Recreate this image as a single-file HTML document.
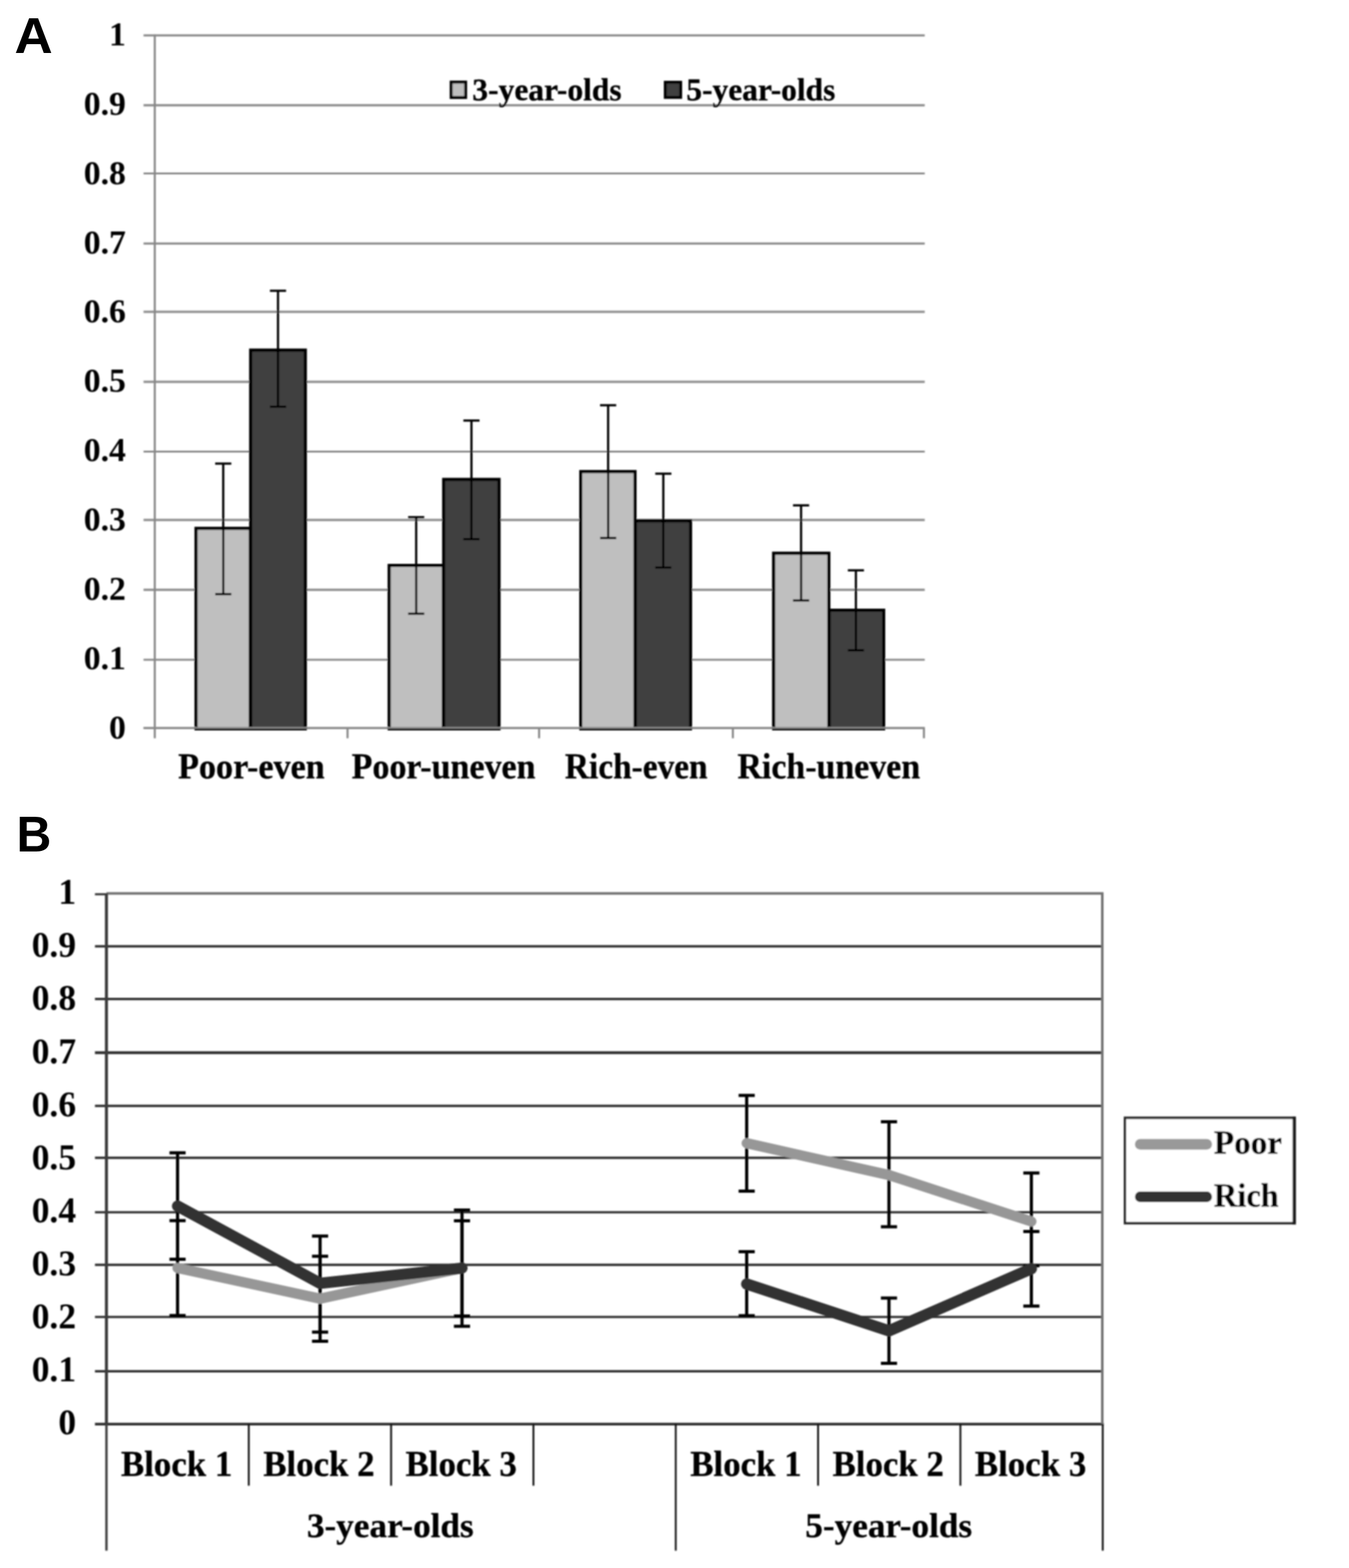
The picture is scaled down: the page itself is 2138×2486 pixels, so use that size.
<!DOCTYPE html>
<html lang="en">
<head>
<meta charset="utf-8">
<title>Figure: panels A and B</title>
<style>
html, body { margin: 0; padding: 0; background: #ffffff; }
body { width: 2138px; height: 2486px; }
svg { display: block; }
text { fill: #000; font-weight: 700; }
text.s { font-family: "Liberation Serif", "DejaVu Serif", serif; stroke: #000; stroke-width: 0.45px; stroke-linejoin: round; }
text.d { font-family: "Liberation Serif", "DejaVu Serif", serif; }
text.n { font-family: "Liberation Sans", "DejaVu Sans", sans-serif; }
</style>
</head>
<body>
<svg width="2138" height="2486" viewBox="0 0 2138 2486">
<defs><filter id="soft" x="0" y="0" width="2138" height="2486" filterUnits="userSpaceOnUse"><feGaussianBlur stdDeviation="0.9"/></filter></defs>
<rect width="2138" height="2486" fill="#ffffff"/>
<g id="chartA" filter="url(#soft)">
<line x1="227.5" y1="56.1" x2="1465.6" y2="56.1" stroke="#868686" stroke-width="3.2"/>
<line x1="227.5" y1="166.8" x2="1465.6" y2="166.8" stroke="#919191" stroke-width="3.8"/>
<line x1="227.5" y1="275.0" x2="1465.6" y2="275.0" stroke="#727272" stroke-width="2.6"/>
<line x1="227.5" y1="386.1" x2="1465.6" y2="386.1" stroke="#868686" stroke-width="3.2"/>
<line x1="227.5" y1="494.3" x2="1465.6" y2="494.3" stroke="#919191" stroke-width="3.8"/>
<line x1="227.5" y1="605.4" x2="1465.6" y2="605.4" stroke="#919191" stroke-width="3.8"/>
<line x1="227.5" y1="716.0" x2="1465.6" y2="716.0" stroke="#727272" stroke-width="2.6"/>
<line x1="227.5" y1="824.3" x2="1465.6" y2="824.3" stroke="#919191" stroke-width="3.8"/>
<line x1="227.5" y1="935.1" x2="1465.6" y2="935.1" stroke="#919191" stroke-width="3.8"/>
<line x1="227.5" y1="1046.0" x2="1465.6" y2="1046.0" stroke="#868686" stroke-width="3.2"/>
<line x1="227.5" y1="1154.5" x2="1465.6" y2="1154.5" stroke="#868686" stroke-width="3.2"/>
<line x1="245.3" y1="54.7" x2="245.3" y2="1170.5" stroke="#868686" stroke-width="3.2"/>
<line x1="550.8" y1="1154.5" x2="550.8" y2="1170.5" stroke="#868686" stroke-width="3.2"/>
<line x1="854.4" y1="1154.5" x2="854.4" y2="1170.5" stroke="#868686" stroke-width="3.2"/>
<line x1="1161.5" y1="1154.5" x2="1161.5" y2="1170.5" stroke="#868686" stroke-width="3.2"/>
<line x1="1464.3" y1="1154.5" x2="1464.3" y2="1170.5" stroke="#868686" stroke-width="3.2"/>
<text class="d" x="199.5" y="71.9" font-size="53.5" text-anchor="end">1</text>
<text class="d" x="199.5" y="181.8" font-size="53.5" text-anchor="end">0.9</text>
<text class="d" x="199.5" y="291.6" font-size="53.5" text-anchor="end">0.8</text>
<text class="d" x="199.5" y="401.5" font-size="53.5" text-anchor="end">0.7</text>
<text class="d" x="199.5" y="511.4" font-size="53.5" text-anchor="end">0.6</text>
<text class="d" x="199.5" y="621.2" font-size="53.5" text-anchor="end">0.5</text>
<text class="d" x="199.5" y="731.1" font-size="53.5" text-anchor="end">0.4</text>
<text class="d" x="199.5" y="841.0" font-size="53.5" text-anchor="end">0.3</text>
<text class="d" x="199.5" y="950.9" font-size="53.5" text-anchor="end">0.2</text>
<text class="d" x="199.5" y="1060.7" font-size="53.5" text-anchor="end">0.1</text>
<text class="d" x="199.5" y="1170.6" font-size="53.5" text-anchor="end">0</text>
<rect x="310.7" y="837.7" width="85.8" height="317.8" fill="#bfbfbf" stroke="#000" stroke-width="5.0"/>
<rect x="397.3" y="555.1" width="86.6" height="600.4" fill="#404040" stroke="#000" stroke-width="5.0"/>
<rect x="616.8" y="896.5" width="85.7" height="259.0" fill="#bfbfbf" stroke="#000" stroke-width="5.0"/>
<rect x="703.2" y="760.1" width="87.7" height="395.4" fill="#404040" stroke="#000" stroke-width="5.0"/>
<rect x="920.5" y="747.7" width="85.9" height="407.8" fill="#bfbfbf" stroke="#000" stroke-width="5.0"/>
<rect x="1006.9" y="825.8" width="87.5" height="329.7" fill="#404040" stroke="#000" stroke-width="5.0"/>
<rect x="1226.1" y="877.1" width="87.5" height="278.4" fill="#bfbfbf" stroke="#000" stroke-width="5.0"/>
<rect x="1314.1" y="967.5" width="86.4" height="188.0" fill="#404040" stroke="#000" stroke-width="5.0"/>
<line x1="227.5" y1="1153.7" x2="1465.6" y2="1153.7" stroke="#8a8a8a" stroke-width="2.6"/>
<path d="M341.0 734.9H366.6M353.8 734.9V942.1M341.0 942.1H366.6" fill="none" stroke="#000" stroke-width="3.5"/>
<path d="M427.8 461.0H453.4M440.6 461.0V644.7M427.8 644.7H453.4" fill="none" stroke="#000" stroke-width="3.5"/>
<path d="M646.8 820.0H672.4M659.6 820.0V973.0M646.8 973.0H672.4" fill="none" stroke="#000" stroke-width="3.5"/>
<path d="M734.4 666.7H760.0M747.2 666.7V854.8M734.4 854.8H760.0" fill="none" stroke="#000" stroke-width="3.5"/>
<path d="M951.0 642.6H976.6M963.8 642.6V853.0M951.0 853.0H976.6" fill="none" stroke="#000" stroke-width="3.5"/>
<path d="M1038.5 751.0H1064.1M1051.3 751.0V899.7M1038.5 899.7H1064.1" fill="none" stroke="#000" stroke-width="3.5"/>
<path d="M1256.8 801.2H1282.4M1269.6 801.2V952.0M1256.8 952.0H1282.4" fill="none" stroke="#000" stroke-width="3.5"/>
<path d="M1343.7 904.2H1369.3M1356.5 904.2V1031.0M1343.7 1031.0H1369.3" fill="none" stroke="#000" stroke-width="3.5"/>
<text class="s" x="398.4" y="1234.2" font-size="56" text-anchor="middle" textLength="232.2" lengthAdjust="spacingAndGlyphs">Poor-even</text>
<text class="s" x="703.0" y="1234.2" font-size="56" text-anchor="middle" textLength="291.5" lengthAdjust="spacingAndGlyphs">Poor-uneven</text>
<text class="s" x="1008.4" y="1234.2" font-size="56" text-anchor="middle" textLength="226.2" lengthAdjust="spacingAndGlyphs">Rich-even</text>
<text class="s" x="1313.5" y="1234.2" font-size="56" text-anchor="middle" textLength="289.6" lengthAdjust="spacingAndGlyphs">Rich-uneven</text>
<rect x="715" y="130.1" width="23" height="24.5" fill="#bdbdbd" stroke="#000" stroke-width="4.6"/>
<text class="s" x="748.6" y="158.8" font-size="50" text-anchor="start" textLength="236.6" lengthAdjust="spacingAndGlyphs">3-year-olds</text>
<rect x="1054.4" y="130.4" width="24.4" height="24" fill="#404040" stroke="#000" stroke-width="4.6"/>
<text class="s" x="1087.8" y="158.8" font-size="50" text-anchor="start" textLength="236.0" lengthAdjust="spacingAndGlyphs">5-year-olds</text>
</g>
<text class="n" font-size="79.8" transform="translate(22.9 83.8) scale(1.05 1)">A</text>
<text class="n" font-size="80.6" transform="translate(26.2 1350.2) scale(0.946 1)">B</text>
<g id="chartB" filter="url(#soft)">
<line x1="168.7" y1="1416.6" x2="1748.9" y2="1416.6" stroke="#707070" stroke-width="4.0"/>
<line x1="150.5" y1="1417.8" x2="170.7" y2="1417.8" stroke="#2e2e2e" stroke-width="3.2"/>
<line x1="150.5" y1="1500.3" x2="1747.7" y2="1500.3" stroke="#2e2e2e" stroke-width="3.7"/>
<line x1="150.5" y1="1583.8" x2="1747.7" y2="1583.8" stroke="#2e2e2e" stroke-width="3.7"/>
<line x1="150.5" y1="1669.1" x2="1747.7" y2="1669.1" stroke="#2e2e2e" stroke-width="4.5"/>
<line x1="150.5" y1="1753.3" x2="1747.7" y2="1753.3" stroke="#2e2e2e" stroke-width="3.7"/>
<line x1="150.5" y1="1835.7" x2="1747.7" y2="1835.7" stroke="#2e2e2e" stroke-width="3.7"/>
<line x1="150.5" y1="1922.0" x2="1747.7" y2="1922.0" stroke="#2e2e2e" stroke-width="3.7"/>
<line x1="150.5" y1="2005.3" x2="1747.7" y2="2005.3" stroke="#2e2e2e" stroke-width="3.7"/>
<line x1="150.5" y1="2088.0" x2="1747.7" y2="2088.0" stroke="#2e2e2e" stroke-width="3.7"/>
<line x1="150.5" y1="2174.1" x2="1747.7" y2="2174.1" stroke="#2e2e2e" stroke-width="3.7"/>
<line x1="150.5" y1="2257.8" x2="1749.3" y2="2257.8" stroke="#2e2e2e" stroke-width="4.2"/>
<line x1="1747.0" y1="1415.1" x2="1747.0" y2="2257.8" stroke="#727272" stroke-width="4.0"/>
<line x1="168.7" y1="1416.8" x2="168.7" y2="2257.8" stroke="#3a3a3a" stroke-width="4.8"/>
<line x1="168.7" y1="2257.8" x2="168.7" y2="2458.5" stroke="#404040" stroke-width="3.8"/>
<line x1="394.2714285714286" y1="2257.8" x2="394.2714285714286" y2="2355.5" stroke="#111" stroke-width="2.9"/>
<line x1="619.8428571428572" y1="2257.8" x2="619.8428571428572" y2="2355.5" stroke="#111" stroke-width="2.9"/>
<line x1="845.4142857142858" y1="2257.8" x2="845.4142857142858" y2="2355.5" stroke="#111" stroke-width="2.9"/>
<line x1="1070.9857142857143" y1="2257.8" x2="1070.9857142857143" y2="2458.5" stroke="#111" stroke-width="2.9"/>
<line x1="1296.557142857143" y1="2257.8" x2="1296.557142857143" y2="2355.5" stroke="#111" stroke-width="2.9"/>
<line x1="1522.1285714285716" y1="2257.8" x2="1522.1285714285716" y2="2355.5" stroke="#111" stroke-width="2.9"/>
<line x1="1747.7" y1="2257.8" x2="1747.7" y2="2458.5" stroke="#111" stroke-width="2.9"/>
<text class="d" x="120.6" y="1433.2" font-size="56.3" text-anchor="end">1</text>
<text class="d" x="120.6" y="1517.3" font-size="56.3" text-anchor="end">0.9</text>
<text class="d" x="120.6" y="1601.4" font-size="56.3" text-anchor="end">0.8</text>
<text class="d" x="120.6" y="1685.5" font-size="56.3" text-anchor="end">0.7</text>
<text class="d" x="120.6" y="1769.6" font-size="56.3" text-anchor="end">0.6</text>
<text class="d" x="120.6" y="1853.7" font-size="56.3" text-anchor="end">0.5</text>
<text class="d" x="120.6" y="1937.8" font-size="56.3" text-anchor="end">0.4</text>
<text class="d" x="120.6" y="2021.9" font-size="56.3" text-anchor="end">0.3</text>
<text class="d" x="120.6" y="2106.0" font-size="56.3" text-anchor="end">0.2</text>
<text class="d" x="120.6" y="2190.1" font-size="56.3" text-anchor="end">0.1</text>
<text class="d" x="120.6" y="2274.2" font-size="56.3" text-anchor="end">0</text>
<path d="M268.6 1827.8H294.2M281.4 1827.8V1996.6M268.6 1996.6H294.2" fill="none" stroke="#000" stroke-width="5.0"/>
<path d="M268.6 1935.3H294.2M281.4 1935.3V2085.7M268.6 2085.7H294.2" fill="none" stroke="#000" stroke-width="5.0"/>
<path d="M494.5 1959.7H520.1M507.3 1959.7V2111.9M494.5 2111.9H520.1" fill="none" stroke="#000" stroke-width="5.0"/>
<path d="M494.5 1991.8H520.1M507.3 1991.8V2126.5M494.5 2126.5H520.1" fill="none" stroke="#000" stroke-width="5.0"/>
<path d="M719.4 1918.6H745.0M732.2 1918.6V2102.7M719.4 2102.7H745.0" fill="none" stroke="#000" stroke-width="5.0"/>
<path d="M719.4 1935.4H745.0M732.2 1935.4V2086.5M719.4 2086.5H745.0" fill="none" stroke="#000" stroke-width="5.0"/>
<path d="M1170.6 1736.8H1196.2M1183.4 1736.8V1888.6M1170.6 1888.6H1196.2" fill="none" stroke="#000" stroke-width="5.0"/>
<path d="M1170.6 1984.6H1196.2M1183.4 1984.6V2086.1M1170.6 2086.1H1196.2" fill="none" stroke="#000" stroke-width="5.0"/>
<path d="M1396.1 1778.5H1421.7M1408.9 1778.5V1944.9M1396.1 1944.9H1421.7" fill="none" stroke="#000" stroke-width="5.0"/>
<path d="M1396.1 2058.1H1421.7M1408.9 2058.1V2161.6M1396.1 2161.6H1421.7" fill="none" stroke="#000" stroke-width="5.0"/>
<path d="M1621.8 1859.8H1647.4M1634.6 1859.8V2006.7M1621.8 2006.7H1647.4" fill="none" stroke="#000" stroke-width="5.0"/>
<path d="M1621.8 1952.5H1647.4M1634.6 1952.5V2070.7M1621.8 2070.7H1647.4" fill="none" stroke="#000" stroke-width="5.0"/>
<polyline points="281.4,2010.3 507.3,2059.0 732.2,2010.6" fill="none" stroke="#979797" stroke-width="16.2" stroke-linecap="round" stroke-linejoin="round"/>
<polyline points="1183.4,1812.5 1408.9,1863.0 1634.6,1936.6" fill="none" stroke="#979797" stroke-width="16.2" stroke-linecap="round" stroke-linejoin="round"/>
<polyline points="281.4,1912.2 507.3,2034.6 732.2,2010.5" fill="none" stroke="#303030" stroke-width="17.8" stroke-linecap="round" stroke-linejoin="round"/>
<polyline points="1183.4,2035.7 1408.9,2110.0 1634.6,2011.5" fill="none" stroke="#303030" stroke-width="17.8" stroke-linecap="round" stroke-linejoin="round"/>
<text class="s" x="279.9" y="2340.3" font-size="57" text-anchor="middle" textLength="176.5" lengthAdjust="spacingAndGlyphs">Block 1</text>
<text class="s" x="505.5" y="2340.3" font-size="57" text-anchor="middle" textLength="176.5" lengthAdjust="spacingAndGlyphs">Block 2</text>
<text class="s" x="731.0" y="2340.3" font-size="57" text-anchor="middle" textLength="176.5" lengthAdjust="spacingAndGlyphs">Block 3</text>
<text class="s" x="1182.2" y="2340.3" font-size="57" text-anchor="middle" textLength="176.5" lengthAdjust="spacingAndGlyphs">Block 1</text>
<text class="s" x="1407.7" y="2340.3" font-size="57" text-anchor="middle" textLength="176.5" lengthAdjust="spacingAndGlyphs">Block 2</text>
<text class="s" x="1633.3" y="2340.3" font-size="57" text-anchor="middle" textLength="176.5" lengthAdjust="spacingAndGlyphs">Block 3</text>
<text class="s" x="618.6" y="2437.4" font-size="55" text-anchor="middle" textLength="264.4" lengthAdjust="spacingAndGlyphs">3-year-olds</text>
<text class="s" x="1408.5" y="2437.4" font-size="55" text-anchor="middle" textLength="264.4" lengthAdjust="spacingAndGlyphs">5-year-olds</text>
<rect x="1783" y="1772.3" width="268.6" height="167" fill="#fff" stroke="#2a2a2a" stroke-width="4"/>
<line x1="2051.2" y1="1770.4" x2="2051.2" y2="1941.3" stroke="#1a1a1a" stroke-width="5.2"/>
<line x1="1807.2" y1="1814.3" x2="1912.4" y2="1814.3" stroke="#999999" stroke-width="17" stroke-linecap="round"/>
<line x1="1807.2" y1="1897.6" x2="1912.4" y2="1897.6" stroke="#303030" stroke-width="17" stroke-linecap="round"/>
<text class="s" x="1923.8" y="1829.4" font-size="52" text-anchor="start" textLength="108.0" lengthAdjust="spacingAndGlyphs">Poor</text>
<text class="s" x="1923.8" y="1913.2" font-size="52" text-anchor="start" textLength="102.8" lengthAdjust="spacingAndGlyphs">Rich</text>
</g>
</svg>
</body>
</html>
